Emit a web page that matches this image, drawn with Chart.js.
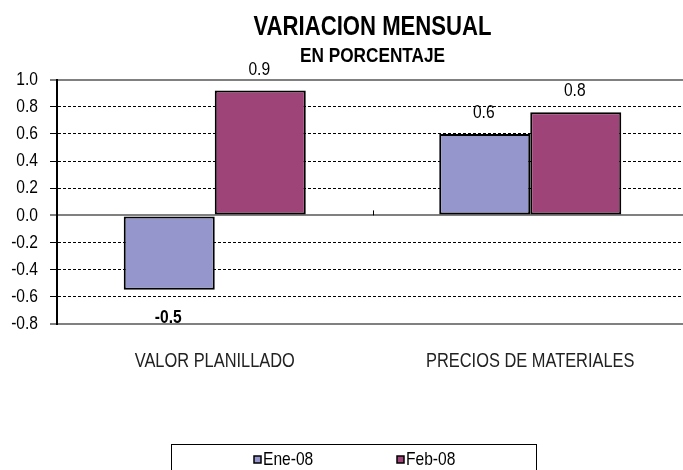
<!DOCTYPE html>
<html>
<head>
<meta charset="utf-8">
<script src="https://cdn.jsdelivr.net/npm/chart.js@4.4.0/dist/chart.umd.min.js"></script>
<style>
  html, body { margin: 0; padding: 0; background: #fff; overflow: hidden; }
  canvas { display: block; }
</style>
</head>
<body>
<canvas id="chart" width="688" height="470"></canvas>
<script>
// Chart data
const categories = ['VALOR PLANILLADO', 'PRECIOS DE MATERIALES'];
const seriesNames = ['Ene-08', 'Feb-08'];
const eneValues = [-0.548, 0.60];
const febValues = [0.92, 0.76];
const yTickValues = [-0.8, -0.6, -0.4, -0.2, 0, 0.2, 0.4, 0.6, 0.8, 1.0];

const FONT = "'Liberation Sans', Arial, sans-serif";
Chart.defaults.font.family = FONT;
Chart.defaults.color = '#000';

// no narrow font installed: squeeze every text horizontally around its anchor
const canvas = document.getElementById('chart');
const c2d = canvas.getContext('2d');
const plainFillText = c2d.fillText.bind(c2d);
c2d.fillText = function (text, x, y, maxWidth) {
    this.save();
    this.translate(x, y);
    this.scale(0.82, 1);
    plainFillText(text, 0, 0);
    this.restore();
};

// value labels above / below each bar
const barLabels = {
    id: 'barLabels',
    afterDatasetsDraw(chart) {
        const ctx = chart.ctx;
        ctx.save();
        ctx.textAlign = 'center';
        ctx.textBaseline = 'middle';
        ctx.fillStyle = '#000';
        chart.data.datasets.forEach((ds, i) => {
            chart.getDatasetMeta(i).data.forEach((bar, j) => {
                const v = ds.data[j];
                if (v < 0) {
                    ctx.font = 'bold 19px ' + FONT;
                    ctx.fillText(v.toFixed(1), bar.x - 1, bar.y + 28);
                } else {
                    ctx.font = '19px ' + FONT;
                    ctx.fillText(v.toFixed(1), bar.x - 1, bar.y - 21);
                }
            });
        });
        ctx.restore();
    }
};

// small tick between the categories on the zero line
const zeroTick = {
    id: 'zeroTick',
    afterDatasetsDraw(chart) {
        const xs = chart.scales.x, ys = chart.scales.y;
        const x = (xs.getPixelForValue(0) + xs.getPixelForValue(1)) / 2;
        const y = ys.getPixelForValue(0);
        const ctx = chart.ctx;
        ctx.save();
        ctx.strokeStyle = '#000';
        ctx.lineWidth = 1;
        ctx.beginPath();
        ctx.moveTo(Math.round(x) + 0.5, y - 5);
        ctx.lineTo(Math.round(x) + 0.5, y);
        ctx.stroke();
        ctx.restore();
    }
};

// framed legend at the bottom, like the spreadsheet one
const boxLegend = {
    id: 'boxLegend',
    afterDraw(chart, args, opts) {
        const ctx = chart.ctx;
        ctx.save();
        ctx.strokeStyle = '#000';
        ctx.lineWidth = 1;
        ctx.strokeRect(opts.left + 0.5, opts.top + 0.5, opts.width, chart.height);
        ctx.font = '19px ' + FONT;
        ctx.textBaseline = 'middle';
        ctx.textAlign = 'left';
        chart.data.datasets.forEach((ds, i) => {
            const x = opts.itemX[i];
            const y = opts.itemY;
            ctx.fillStyle = ds.backgroundColor;
            ctx.fillRect(x, y - 4, 7, 7);
            ctx.lineWidth = 1.5;
            ctx.strokeRect(x, y - 4, 7, 7);
            ctx.fillStyle = '#000';
            ctx.fillText(ds.label, x + 9, y);
        });
        ctx.restore();
    }
};

const isSolidLine = v => v === 0 || v === 1.0 || v === -0.8;

new Chart(canvas, {
    type: 'bar',
    data: {
        labels: categories,
        datasets: [
            {
                label: seriesNames[0],
                data: eneValues,
                backgroundColor: '#9596CB',
                borderColor: '#000',
                borderWidth: 2,
                borderSkipped: false,
                barPercentage: 1,
                categoryPercentage: 0.577
            },
            {
                label: seriesNames[1],
                data: febValues,
                backgroundColor: '#9F4478',
                borderColor: '#000',
                borderWidth: 2,
                borderSkipped: false,
                barPercentage: 1,
                categoryPercentage: 0.577
            }
        ]
    },
    options: {
        responsive: false,
        animation: false,
        layout: { padding: { top: 0, left: 0, right: 0, bottom: 98 } },
        plugins: {
            legend: { display: false },
            tooltip: { enabled: false },
            title: {
                display: true,
                text: 'VARIACION MENSUAL',
                fullSize: false,
                color: '#000',
                font: { size: 27, weight: 'bold' },
                padding: { top: 11, bottom: 0 }
            },
            subtitle: {
                display: true,
                text: 'EN PORCENTAJE',
                fullSize: false,
                color: '#000',
                font: { size: 21, weight: 'bold' },
                padding: { top: 0, bottom: 11 }
            },
            boxLegend: {
                left: 171,
                top: 444,
                width: 365,
                itemX: [254, 397],
                itemY: 460
            }
        },
        scales: {
            x: {
                afterFit: scale => { scale.height = 48; },
                grid: { display: false, drawTicks: false },
                border: { display: true, color: '#808080', width: 2 },
                ticks: {
                    color: '#222',
                    padding: 25,
                    maxRotation: 0,
                    font: { size: 20 }
                }
            },
            y: {
                min: -0.8,
                max: 1.0,
                afterBuildTicks: scale => {
                    scale.ticks = yTickValues.map(v => ({ value: v }));
                },
                afterFit: scale => { scale.width = 57; },
                grid: {
                    color: ctx => (ctx.tick && isSolidLine(ctx.tick.value)) ? '#808080' : '#000',
                    lineWidth: ctx => (ctx.tick && isSolidLine(ctx.tick.value)) ? 2 : 1,
                    tickColor: '#000',
                    tickWidth: 1,
                    tickLength: 7,
                    tickBorderDash: []
                },
                border: {
                    display: true,
                    color: '#000',
                    width: 2,
                    dash: ctx => (ctx.tick && !isSolidLine(ctx.tick.value)) ? [3, 2] : []
                },
                ticks: {
                    color: '#000',
                    padding: 12,
                    autoSkip: false,
                    font: { size: 19 },
                    callback: v => v.toFixed(1)
                }
            }
        }
    },
    plugins: [barLabels, zeroTick, boxLegend]
});
</script>
</body>
</html>
